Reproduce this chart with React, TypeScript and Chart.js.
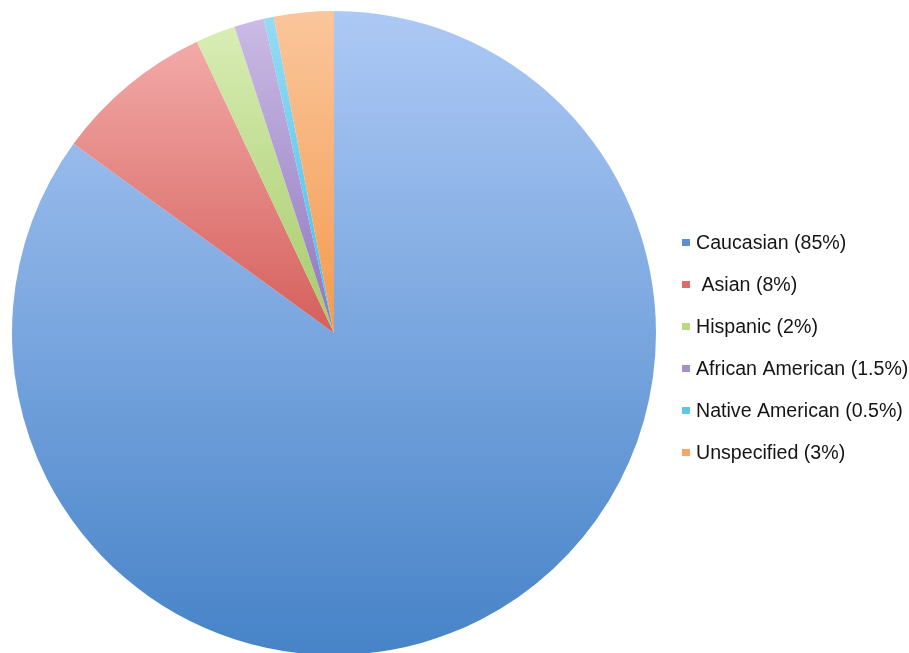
import React, { useEffect, useRef } from "react";
import { Chart, registerables } from "chart.js";

Chart.register(...registerables);

const categories = [
  "Caucasian (85%)",
  " Asian (8%)",
  "Hispanic (2%)",
  "African American (1.5%)",
  "Native American (0.5%)",
  "Unspecified (3%)",
];
const shares = [85, 8, 2, 1.5, 0.5, 3];

// light (top) and dark (bottom) stops of each slice's vertical gradient
const topColors = ["#adc9f5", "#f2aaa8", "#d8edb4", "#cbbbe5", "#96dbf4", "#fac69c"];
const bottomColors = ["#4683c8", "#d55f5b", "#a6ca68", "#8e75be", "#45bde8", "#f49a4e"];
const swatchColors = ["#5b8fd6", "#e06a67", "#b7d97f", "#a290cc", "#5cc7ea", "#f6a766"];

// Each arc gets its own gradient spanning its vertical extent
const sliceGradients = {
  id: "sliceGradients",
  beforeDatasetDraw(chart: any) {
    const ctx = chart.ctx as CanvasRenderingContext2D;
    const meta = chart.getDatasetMeta(0);
    meta.data.forEach((arc: any, i: number) => {
      const { x, y, startAngle, endAngle, outerRadius } = arc;
      let minY = y;
      let maxY = y;
      const steps = 120;
      for (let s = 0; s <= steps; s++) {
        const a = startAngle + ((endAngle - startAngle) * s) / steps;
        const py = y + Math.sin(a) * outerRadius;
        minY = Math.min(minY, py);
        maxY = Math.max(maxY, py);
      }
      const g = ctx.createLinearGradient(0, minY, 0, maxY);
      g.addColorStop(0, topColors[i]);
      g.addColorStop(1, bottomColors[i]);
      arc.options.backgroundColor = g;
    });
  },
};

// Legend drawn at the right of the pie
const sideLegend = {
  id: "sideLegend",
  afterDraw(chart: any) {
    const ctx = chart.ctx as CanvasRenderingContext2D;
    ctx.save();
    ctx.font = '19.6px "Liberation Sans", Arial, sans-serif';
    ctx.textBaseline = "middle";
    categories.forEach((label, i) => {
      const cy = 244 + i * 42;
      ctx.fillStyle = swatchColors[i];
      ctx.fillRect(682, cy - 5, 8, 7);
      ctx.fillStyle = "#151515";
      ctx.fillText(label, 696, cy);
    });
    ctx.restore();
  },
};

export default function App() {
  const ref = useRef<HTMLCanvasElement | null>(null);

  useEffect(() => {
    if (!ref.current) return;
    const chart = new Chart(ref.current, {
      type: "pie",
      data: {
        labels: categories,
        datasets: [
          {
            data: shares,
            backgroundColor: swatchColors,
            borderWidth: 0,
          },
        ],
      },
      options: {
        animation: false,
        responsive: false,
        layout: { padding: { left: 12, top: 11, right: 253, bottom: 25 } },
        plugins: {
          legend: { display: false },
          tooltip: { enabled: false },
        },
      },
      plugins: [sliceGradients, sideLegend],
    });
    return () => chart.destroy();
  }, []);

  return (
    <div style={{ position: "absolute", left: 0, top: 0, width: 909, height: 653, overflow: "hidden", background: "#fff" }}>
      <canvas ref={ref} width={909} height={680} style={{ display: "block" }} />
    </div>
  );
}
